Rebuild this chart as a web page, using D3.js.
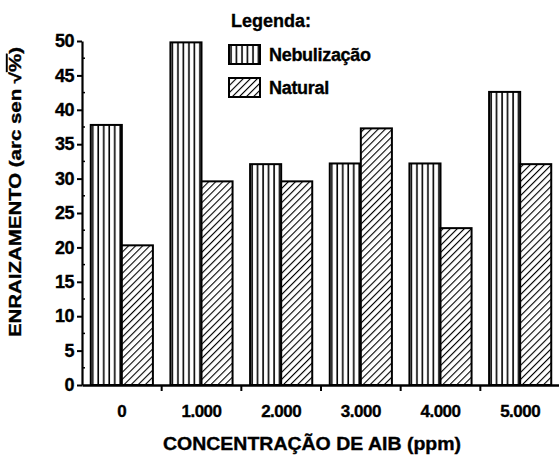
<!DOCTYPE html>
<html>
<head>
<meta charset="utf-8">
<script src="https://cdn.jsdelivr.net/npm/d3@7"></script>
<style>
	body { margin: 0; background: #fff; }
	text { font-family: "Liberation Sans", Arial, sans-serif; font-weight: bold; fill: #000; stroke: #000; stroke-width: 0.35px; }
</style>
</head>
<body>
<div id="chart"></div>
<script>
const categories = ["0", "1.000", "2.000", "3.000", "4.000", "5.000"];
const seriesNames = ["Nebulização", "Natural"];
const nebulizacao = [37.8, 49.8, 32.1, 32.2, 32.2, 42.6];
const natural = [20.3, 29.6, 29.6, 37.3, 22.8, 32.1];
const yTicks = [0, 5, 10, 15, 20, 25, 30, 35, 40, 45, 50];

const width = 559, height = 456;
const margin = {top: 41, right: 0, bottom: 71, left: 82};

const svg = d3.select("#chart")
	.append("svg")
		.attr("width", width)
		.attr("height", height);

// hatch patterns
const defs = svg.append("defs");
const pv = defs.append("pattern")
	.attr("id", "vert")
	.attr("patternUnits", "userSpaceOnUse")
	.attr("width", 5.5)
	.attr("height", 10);
pv.append("rect").attr("width", 5.5).attr("height", 10).attr("fill", "#fff");
pv.append("line")
	.attr("x1", 2).attr("x2", 2).attr("y1", 0).attr("y2", 10)
	.attr("stroke", "#000").attr("stroke-width", 1.6);

const pd = defs.append("pattern")
	.attr("id", "diag")
	.attr("patternUnits", "userSpaceOnUse")
	.attr("width", 5)
	.attr("height", 5)
	.attr("patternTransform", "rotate(45)");
pd.append("rect").attr("width", 5).attr("height", 5).attr("fill", "#fff");
pd.append("line")
	.attr("x1", 0).attr("x2", 0).attr("y1", 0).attr("y2", 5)
	.attr("stroke", "#000").attr("stroke-width", 2.2);

const fills = ["url(#vert)", "url(#diag)"];

const x = d3.scaleBand()
	.domain(categories)
	.range([margin.left, width + 1])
	.paddingInner(0.22)
	.paddingOuter(0.11);

const xs = d3.scaleBand()
	.domain(seriesNames)
	.range([0, x.bandwidth()]);

const y = d3.scaleLinear()
	.domain([0, 50])
	.range([height - margin.bottom, margin.top]);

const data = categories.map((c, i) => ({cat: c, values: [nebulizacao[i], natural[i]]}));

// bars
const groups = svg.append("g")
	.selectAll("g")
	.data(data)
	.join("g")
		.attr("transform", d => `translate(${x(d.cat)},0)`);

groups.selectAll("rect")
	.data(d => d.values.map((v, k) => ({v, k})))
	.join("rect")
		.attr("x", d => xs(seriesNames[d.k]))
		.attr("width", xs.bandwidth())
		.attr("y", d => y(d.v))
		.attr("height", d => y(0) - y(d.v))
		.attr("fill", d => fills[d.k])
		.attr("stroke", "#000")
		.attr("stroke-width", 2);

// y axis
const yAxis = svg.append("g")
	.attr("transform", `translate(${margin.left},0)`)
	.call(d3.axisLeft(y).tickValues(yTicks).tickSize(5).tickSizeOuter(0).tickPadding(3));
yAxis.select(".domain").attr("stroke-width", 2.2);
yAxis.selectAll(".tick line").attr("stroke-width", 2);
yAxis.selectAll(".tick text")
	.style("font-size", "18px")
	.attr("letter-spacing", "-0.5px");

// minor ticks pointing inward
svg.append("g")
	.selectAll("line")
	.data(d3.range(2.5, 50, 5))
	.join("line")
		.attr("x1", margin.left).attr("x2", margin.left + 3)
		.attr("y1", d => y(d)).attr("y2", d => y(d))
		.attr("stroke", "#000").attr("stroke-width", 1.5);

// x axis
const xAxis = svg.append("g")
	.attr("transform", `translate(0,${y(0)})`)
	.call(d3.axisBottom(x).tickSize(0).tickPadding(20));
xAxis.select(".domain").attr("stroke-width", 2.5);
xAxis.selectAll(".tick text")
	.style("font-size", "17px")
	.attr("letter-spacing", "-0.5px");

// tick marks at category boundaries
const step = x.step();
svg.append("g")
	.selectAll("line")
	.data(categories.slice(1))
	.join("line")
		.attr("x1", d => x(d) - (step - x.bandwidth()) / 2)
		.attr("x2", d => x(d) - (step - x.bandwidth()) / 2)
		.attr("y1", y(0)).attr("y2", y(0) + 6)
		.attr("stroke", "#000").attr("stroke-width", 2);

// axis titles
svg.append("text")
	.attr("x", 312)
	.attr("y", 450)
	.attr("text-anchor", "middle")
	.attr("textLength", 298)
	.attr("lengthAdjust", "spacingAndGlyphs")
	.style("font-size", "18px")
	.text("CONCENTRAÇÃO DE AIB (ppm)");

const yTitle = svg.append("text")
	.attr("transform", "translate(21,192) rotate(-90)")
	.attr("text-anchor", "middle")
	.attr("textLength", 290)
	.attr("lengthAdjust", "spacingAndGlyphs")
	.style("font-size", "16px");
yTitle.append("tspan").text("ENRAIZAMENTO (arc sen √");
yTitle.append("tspan").style("text-decoration", "overline").text("%");
yTitle.append("tspan").text(")");

// legend
svg.append("text")
	.attr("x", 231)
	.attr("y", 27)
	.style("font-size", "18px")
	.text("Legenda:");

const legend = svg.append("g")
	.selectAll("g")
	.data(seriesNames)
	.join("g")
		.attr("transform", (d, i) => `translate(229,${45 + i * 33})`);

legend.append("rect")
	.attr("width", 31)
	.attr("height", 19)
	.attr("fill", (d, i) => fills[i])
	.attr("stroke", "#000")
	.attr("stroke-width", 2);

legend.append("text")
	.attr("x", 40)
	.attr("y", 16)
	.style("font-size", "18px")
	.attr("letter-spacing", "-0.3px")
	.text(d => d);
</script>
</body>
</html>
